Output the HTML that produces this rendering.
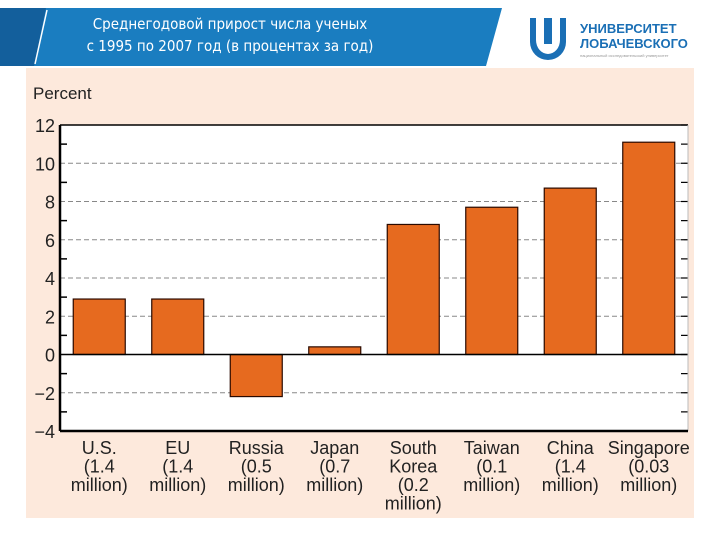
<!DOCTYPE html>
<html><head><meta charset="utf-8"><style>
body{margin:0;width:720px;height:540px;background:#fff;position:relative;overflow:hidden;font-family:"Liberation Sans",sans-serif}
</style></head><body>
<svg width="720" height="540" style="position:absolute;left:0;top:0">
 <polygon points="0,8 502,8 486,66 0,66" fill="#1a7dc0"/>
 <polygon points="0,8 46,8 34,66 0,66" fill="#135f9c"/>
 <line x1="47" y1="10" x2="35" y2="64" stroke="#fff" stroke-width="1.5"/>
 <text x="230" y="29" fill="#fff" font-size="15" text-anchor="middle" font-family="DejaVu Sans Condensed, DejaVu Sans, sans-serif">Среднегодовой прирост числа ученых</text>
 <text x="230" y="51" fill="#fff" font-size="15" text-anchor="middle" font-family="DejaVu Sans Condensed, DejaVu Sans, sans-serif">с 1995 по 2007 год (в процентах за год)</text>
 <g>
  <path d="M530,18 v24 a18,18 0 0 0 36,0 v-24 h-6 v22 a12,14 0 0 1 -24,0 v-22z" fill="#1a6fb5"/>
  <rect x="544" y="18" width="8" height="26" fill="#1a6fb5"/>
  <text x="580" y="33" fill="#1a6fb5" font-size="13" font-weight="bold">УНИВЕРСИТЕТ</text>
  <text x="580" y="48" fill="#1a6fb5" font-size="13" font-weight="bold">ЛОБАЧЕВСКОГО</text>
  <text x="580" y="57" fill="#999" font-size="4">национальный исследовательский университет</text>
 </g>
 <rect x="26" y="68" width="668" height="450" fill="#fde9dc"/>
 <text x="33" y="99" font-size="17" fill="#222">Percent</text>
 <g id="chart"></g>
</svg>
<script>
const categories=[["U.S.","(1.4","million)"],["EU","(1.4","million)"],["Russia","(0.5","million)"],["Japan","(0.7","million)"],["South","Korea","(0.2","million)"],["Taiwan","(0.1","million)"],["China","(1.4","million)"],["Singapore","(0.03","million)"]];
const values=[2.9,2.9,-2.2,0.4,6.8,7.7,8.7,11.1];
const yTicks=[12,10,8,6,4,2,0,-2,-4];
const NS="http://www.w3.org/2000/svg";
const g=document.getElementById('chart');
const L=60,R=688,T=125,B=431,ymin=-4,ymax=12;
const y=v=>T+(ymax-v)/(ymax-ymin)*(B-T);
const slot=(R-L)/categories.length;
const x=i=>L+slot*(i+0.5);
function mk(t,a){const e=document.createElementNS(NS,t);for(const k in a)e.setAttribute(k,a[k]);g.appendChild(e);return e;}
let bg=mk('rect',{x:L,y:T,width:R-L,height:B-T,fill:'#fff'});


for(let v=ymin;v<=ymax;v++){
 if(v%2===0&&v!==ymin&&v!==ymax&&v!==0){
  let gl=mk('line',{x1:L,x2:R,y1:y(v),y2:y(v),stroke:'#888','stroke-dasharray':'5,3','stroke-width':1});
  
  
 }
 if(v%2!==0){
  mk('line',{x1:L,x2:L+7,y1:y(v),y2:y(v),stroke:'#000','stroke-width':1.5});
 }
 mk('line',{x1:R-7,x2:R,y1:y(v),y2:y(v),stroke:'#000','stroke-width':1.2});
}
yTicks.forEach(v=>{
 let t=mk('text',{x:L-5,y:y(v)+7,'font-size':18,'text-anchor':'end',fill:'#222'});
 t.textContent=v<0?'\u2212'+(-v):v;
 
 
});
values.forEach((v,i)=>{
 const w=52;
 let b=mk('rect',{x:x(i)-w/2,y:Math.min(y(v),y(0)),width:w,height:Math.abs(y(v)-y(0)),fill:'#e66a1f',stroke:'#2a0a00','stroke-width':1.2});
 
 
 categories[i].forEach((s,j)=>{
  let t=mk('text',{x:x(i),y:454+j*18.5,'font-size':18,'text-anchor':'middle',fill:'#222'});
  t.textContent=s;
  
  
 });
});
mk('line',{x1:L,x2:R,y1:y(0),y2:y(0),stroke:'#000','stroke-width':1.5});
mk('line',{x1:L,x2:R,y1:T,y2:T,stroke:'#000','stroke-width':1.5});
mk('line',{x1:R,x2:R,y1:T,y2:B,stroke:'#bbb','stroke-width':1});
mk('line',{x1:L,x2:L,y1:T,y2:B,stroke:'#000','stroke-width':2.5});
mk('line',{x1:L,x2:R,y1:B,y2:B,stroke:'#000','stroke-width':2.5});
</script>
</body></html>
